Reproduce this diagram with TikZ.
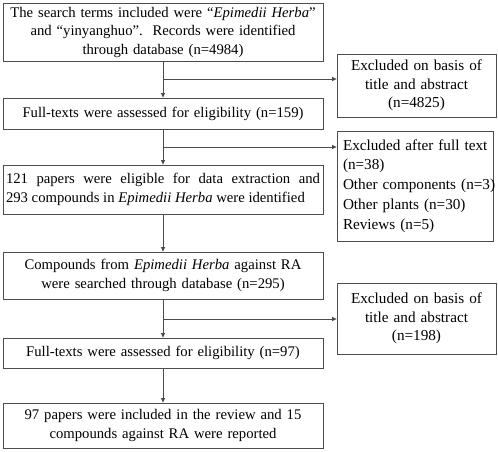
\documentclass[tikz,border=0pt]{standalone}
\usepackage{fontspec}
\setmainfont{Liberation Serif}
\usepackage{tikz}
\usetikzlibrary{arrows.meta, positioning}

\begin{document}
\begin{tikzpicture}[
  x=1pt, y=-1pt,
  every node/.style={font=\fontsize{14.7}{18.5}\selectfont},
  box/.style={draw=black!70, line width=0.8pt, inner sep=3pt, minimum width=320pt, text width=314pt, align=center},
  exbox/.style={draw=black!70, line width=0.8pt, inner sep=3pt, minimum width=159pt, text width=153pt, align=center, font=\fontsize{15.2}{18.5}\selectfont},
  arrow/.style={-{Triangle[length=4.5pt, width=4pt]}, line width=0.8pt, black!70}
]
\useasboundingbox (0,0) rectangle (498,451);

% --- Main column ---
\node[box, minimum height=58pt] (search) at (163,32) {The search terms included were ``\textit{Epimedii Herba}''\\ and ``yinyanghuo''.\ \ Records were identified\\ through database (n=4984)};
\node[box, minimum height=31pt] (full1) at (163,113.5) {Full-texts were assessed for eligibility (n=159)};
\node[box, minimum height=49pt, align=justify] (eligible) at (163,189.5) {121 papers were eligible for data extraction and\linebreak 293 compounds in \textit{Epimedii Herba} were identified};
\node[box, minimum height=47pt] (compounds) at (163,275.5) {Compounds from \textit{Epimedii Herba}\ against RA\\ were searched through database (n=295)};
\node[box, minimum height=30pt] (full2) at (163,353) {Full-texts were assessed for eligibility (n=97)};
\node[box, minimum height=45pt] (included) at (163,425.5) {97 papers were included in the review and 15\\ compounds against RA were reported};

% --- Exclusion boxes ---
\node[exbox, minimum height=63pt] (excl1) at (416.5,85.5) {Excluded on basis of\\ title and abstract\\ (n=4825)};
\node[exbox, minimum width=156pt, minimum height=110pt, align=left, inner xsep=6pt, text width=144pt, font=\fontsize{15.2}{19.8}\selectfont] (excl2) at (415,186) {\mbox{Excluded after full text}\\ (n=38)\\ \mbox{Other components (n=3)}\\ \mbox{Other plants (n=30)}\\ \mbox{Reviews (n=5)}};
\node[exbox, minimum height=71pt] (excl3) at (416.5,318.5) {Excluded on basis of\\ title and abstract\\ (n=198)};

% --- Arrows ---
\draw[arrow] (search.south) -- (full1.north);
\draw[arrow] (full1.south) -- (eligible.north);
\draw[arrow] (eligible.south) -- (compounds.north);
\draw[arrow] (compounds.south) -- (full2.north);
\draw[arrow] (full2.south) -- (included.north);

\coordinate (br1) at (163,79);
\coordinate (br2) at (163,147);
\coordinate (br3) at (163,319);
\draw[arrow] (br1) -- (br1 -| excl1.west);
\draw[arrow] (br2) -- (br2 -| excl2.west);
\draw[arrow] (br3) -- (br3 -| excl3.west);

\end{tikzpicture}
\end{document}
